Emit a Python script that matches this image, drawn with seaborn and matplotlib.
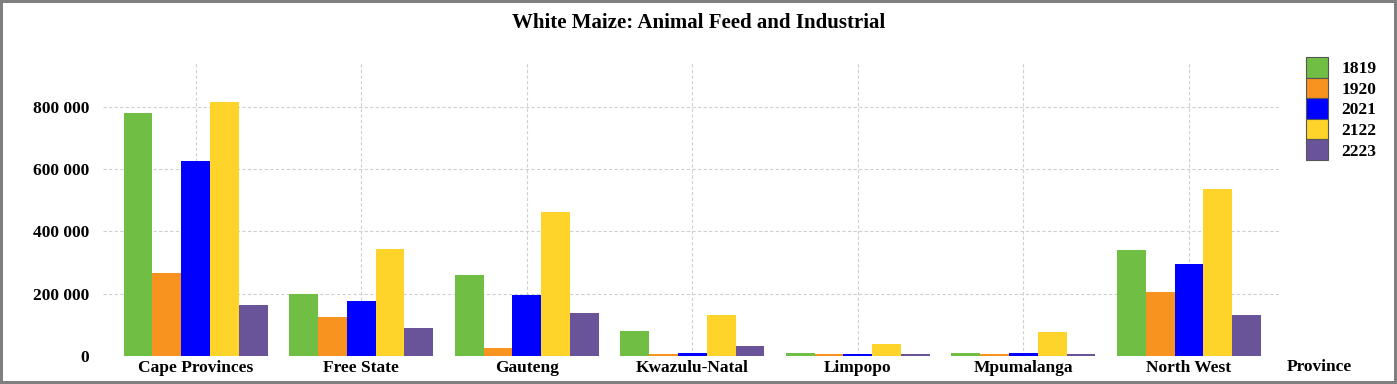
import numpy as np
import pandas as pd
import matplotlib
matplotlib.use("Agg")
import matplotlib.pyplot as plt
import seaborn as sns

# Data
provinces = ["Cape Provinces", "Free State", "Gauteng", "Kwazulu-Natal",
             "Limpopo", "Mpumalanga", "North West"]
seasons = ["1819", "1920", "2021", "2122", "2223"]

v1819 = [780000, 198000, 260000, 80000, 11000, 11000, 340000]
v1920 = [265000, 124000, 27000, 5000, 5000, 5000, 204000]
v2021 = [627000, 177000, 195000, 9000, 6000, 11000, 296000]
v2122 = [817000, 345000, 464000, 133000, 37000, 76000, 535000]
v2223 = [164000, 89000, 137000, 32000, 5000, 5000, 133000]

colors = ["#70BF44", "#F7931E", "#0000FF", "#FFD42A", "#6A5499"]

rows = []
for season, vals in zip(seasons, [v1819, v1920, v2021, v2122, v2223]):
    for prov, v in zip(provinces, vals):
        rows.append({"Province": prov, "Season": season, "Tons": v})
df = pd.DataFrame(rows)

sns.set_style("white")
plt.rcParams["font.family"] = ["Liberation Serif", "DejaVu Serif"]
plt.rcParams["font.weight"] = "bold"
plt.rcParams["text.color"] = "black"
plt.rcParams["xtick.color"] = "black"
plt.rcParams["ytick.color"] = "black"

fig = plt.figure(figsize=(13.97, 3.84), dpi=100)
fig.patch.set_edgecolor("#7f7f7f")
fig.patch.set_linewidth(3)
ax = fig.add_axes([0.0737, 0.073, 0.8426, 0.766])

sns.barplot(data=df, x="Province", y="Tons", hue="Season", order=provinces,
            hue_order=seasons, palette=colors, width=0.87, saturation=1,
            linewidth=0, ax=ax, legend=False, zorder=3)

ax.set_ylim(0, 945000)
ax.set_xlim(-0.56, 6.55)
ax.set_yticks([0, 200000, 400000, 600000, 800000])
ax.set_yticklabels(["0", "200 000", "400 000", "600 000", "800 000"])
ax.tick_params(axis="both", length=0, labelsize=12.5)
ax.tick_params(axis="y", pad=10)
ax.tick_params(axis="x", pad=3)
for lab in ax.get_xticklabels() + ax.get_yticklabels():
    lab.set_fontweight("bold")

ax.grid(True, axis="both", color="#d0d0d0", linestyle=(0, (3, 2)), linewidth=0.8, zorder=0)
ax.set_axisbelow(True)
for s in ax.spines.values():
    s.set_visible(False)

ax.set_ylabel("")
ax.set_xlabel("")
ax.text(1.006, -0.012, "Province", transform=ax.transAxes, ha="left", va="top",
        fontsize=12.5, fontweight="bold")

handles = [plt.Rectangle((0, 0), 1, 1, facecolor=c, edgecolor="#555555", linewidth=0.8)
           for c in colors]
leg = ax.legend(handles, seasons, loc="upper left", bbox_to_anchor=(1.016, 1.04),
                frameon=False, fontsize=12.5, handlelength=1.25, handleheight=1.45,
                labelspacing=0.0, handletextpad=0.8, borderaxespad=0)
for t in leg.get_texts():
    t.set_fontweight("bold")

fig.suptitle("White Maize: Animal Feed and Industrial", fontsize=15,
             fontweight="bold", x=0.5, y=0.965, color="black")

fig.savefig("out.png", dpi=100)
